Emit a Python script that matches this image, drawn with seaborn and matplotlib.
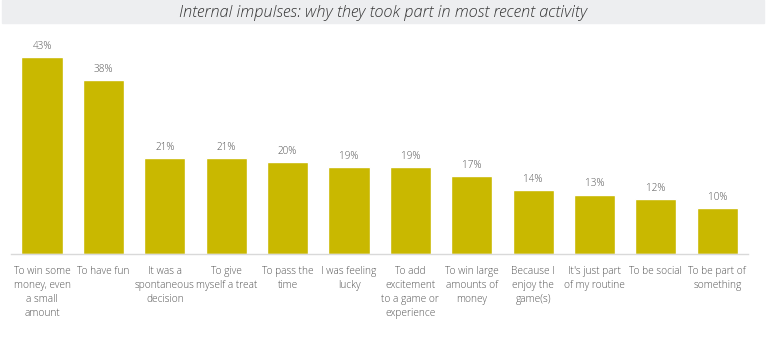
import matplotlib
matplotlib.use("Agg")
import matplotlib.pyplot as plt
import seaborn as sns
import pandas as pd

categories = [
    "To win some\nmoney, even\na small\namount",
    "To have fun",
    "It was a\nspontaneous\ndecision",
    "To give\nmyself a treat",
    "To pass the\ntime",
    "I was feeling\nlucky",
    "To add\nexcitement\nto a game or\nexperience",
    "To win large\namounts of\nmoney",
    "Because I\nenjoy the\ngame(s)",
    "It's just part\nof my routine",
    "To be social",
    "To be part of\nsomething",
]
values = [43, 38, 21, 21, 20, 19, 19, 17, 14, 13, 12, 10]
value_labels = [f"{v}%" for v in values]

sns.set_theme(style="white")
plt.rcParams["font.family"] = ["Open Sans", "DejaVu Sans"]

df = pd.DataFrame({"reason": categories, "share": values})

fig = plt.figure(figsize=(7.66, 3.48), dpi=100)
ax = fig.add_axes([0.0148, 0.270, 0.9617, 0.592])

sns.barplot(data=df, x="reason", y="share", color="#C9B800",
            saturation=1, width=0.67, ax=ax)

for i, (v, lab) in enumerate(zip(values, value_labels)):
    ax.text(i, v + 1.1, lab, ha="center", va="bottom",
            fontsize=7.2, color="#555555", fontweight="light")

ax.set_xlim(-0.5, len(categories) - 0.5)
ax.set_ylim(0, 45)
ax.set_xlabel("")
ax.set_ylabel("")
ax.set_yticks([])
ax.tick_params(axis="x", length=0, pad=8.5)
for t in ax.get_xticklabels():
    t.set_fontsize(7.3)
    t.set_color("#555555")
    t.set_linespacing(1.38)
    t.set_fontweight("light")
for s in ["top", "left", "right"]:
    ax.spines[s].set_visible(False)
ax.spines["bottom"].set_color("#D9D9D9")
ax.spines["bottom"].set_linewidth(1)

# title band
fig.patches.append(plt.Rectangle((0.003, 0.934), 0.995, 0.066,
                                 transform=fig.transFigure,
                                 color="#EDEEF0", zorder=0))
fig.text(0.5, 0.964, "Internal impulses: why they took part in most recent activity",
         ha="center", va="center", fontsize=11.8, style="italic",
         fontweight="light", color="#333333")

fig.savefig("out.png", dpi=100, facecolor="white")
